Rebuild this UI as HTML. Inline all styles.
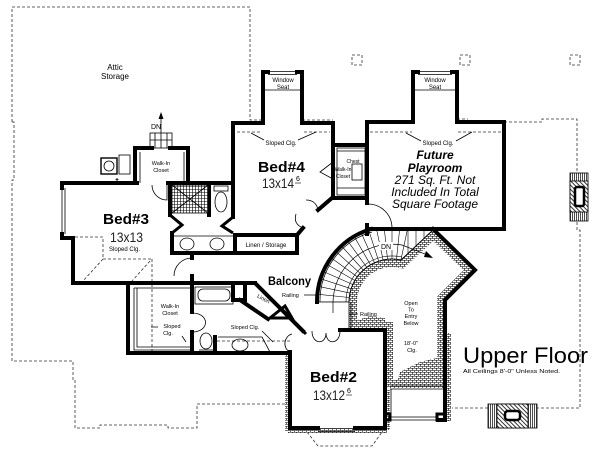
<!DOCTYPE html>
<html><head><meta charset="utf-8">
<style>html,body{margin:0;padding:0;background:#fff;}svg{display:block}</style></head>
<body>
<svg width="600" height="456" viewBox="0 0 600 456" xmlns="http://www.w3.org/2000/svg" font-family="'Liberation Sans', sans-serif">
<defs>
<pattern id="brick" width="4" height="4" patternUnits="userSpaceOnUse">
<rect width="4" height="4" fill="#fff"/>
<path d="M0 0.5H4M0 2.5H4M0.5 0V2.5M2.5 2.5V4" stroke="#000" stroke-width="0.6"/>
</pattern>
<pattern id="diag" width="3" height="3" patternUnits="userSpaceOnUse" patternTransform="rotate(45)">
<rect width="3" height="3" fill="#fff"/><path d="M0 0.5H3" stroke="#000" stroke-width="0.8"/>
</pattern>
<pattern id="vert" width="2" height="2" patternUnits="userSpaceOnUse">
<rect width="2" height="2" fill="#fff"/><path d="M0.5 0V2" stroke="#000" stroke-width="0.7"/>
</pattern>
<pattern id="grid" width="3" height="3" patternUnits="userSpaceOnUse">
<rect width="3" height="3" fill="#fff"/><path d="M0 0.5H3M0.5 0V3" stroke="#000" stroke-width="0.6"/>
</pattern>
<clipPath id="stairClip"><path d="M317,302 A76,76 0 0,1 371,229 L433,229 L401,260 A43,43 0 0,0 349,302 Z"/></clipPath>
<clipPath id="openClip"><path d="M349,302 A43,43 0 0,1 401,260 L433,230 L475,270 L445,300 L445,388 L385,388 L385,330 L349,330 Z"/></clipPath>
</defs>

<!-- dashed outlines -->
<g fill="none" stroke="#333" stroke-width="0.8" stroke-dasharray="3,2">
<path d="M12,122 V7 H250 V120 H263"/>
<path d="M12,122 H14 V180 H12 V361 H73 V380 H75 V428 H100 V425 H168 V428 H197 V404 H285"/>
<path d="M504,122 H542 V119 H577 V172"/>
<path d="M577,222 V230 H580 V408 H537"/>
<path d="M488,408 H452"/>
<path d="M302,120 H333"/>
<path d="M457,119 H468"/>
<rect x="352" y="55" width="10" height="10"/>
<rect x="460" y="55" width="10" height="10"/>
<rect x="570" y="55" width="10" height="10"/>
<path d="M307,432 L318,446 H372 L382,432"/>
<path d="M237,132 H262 M304,132 H330"/>
<path d="M370,132 H412 M458,132 H502"/>
<path d="M75,237 H103 V259 H152 M103,259 L83,281 M150,261 L132,281 M152,259 V355"/>
<path d="M217,341 H290"/>
</g>

<!-- open area hatch -->
<g clip-path="url(#openClip)">
<path d="M349,302 A43,43 0 0,1 401,260 L433,230 L475,270 L445,300 L445,388 L385,388 L385,330 L349,330 Z" fill="none" stroke="url(#brick)" stroke-width="16"/>
<path d="M395,388 L400,372 L420,362 L445,356 L445,388 Z" fill="url(#brick)"/>
<path d="M349,330 L352,322 L370,316 L385,318 L385,330 Z" fill="url(#brick)"/>
</g>
<rect x="447" y="333" width="4" height="88" fill="url(#brick)"/>
<rect x="285" y="355" width="4" height="76" fill="url(#brick)"/>
<rect x="288" y="429" width="99" height="4" fill="url(#brick)"/>
<rect x="386" y="390" width="4" height="40" fill="url(#brick)"/>

<!-- stair treads -->
<g clip-path="url(#stairClip)" stroke="#000" stroke-width="0.6">
<path d="M349,302 L297,302 M349.2,297.5 L297.5,292.1 M349.9,293.1 L299.1,282.2 M351.1,288.7 L301.6,272.6 M352.7,284.5 L305.2,263.4 M354.8,280.5 L309.7,254.5 M357.2,276.7 L315.1,246.2 M360,273.2 L321.4,238.4 M363.2,270 L328.4,231.4 M366.7,267.2 L336.2,225.1 M370.5,264.8 L344.5,219.7 M374.5,262.7 L353.4,215.2 M378.7,261.1 L362.6,211.6 M383.1,259.9 L372.2,209.1 M387.5,259.2 L382.1,207.5 M392,259 L392,207 M396.5,259.2 L401.9,207.5 M400.9,259.9 L411.8,209.1 M408,229 V262 M416,229 V262 M424,229 V262"/>
</g>
<g fill="none" stroke="#000">
<path d="M320,302 A72,72 0 0,1 372,232" stroke-width="0.7"/>
<path d="M349,302 A43,43 0 0,1 401,260 L433,230" stroke-width="1"/>
<path d="M346,302 A46,46 0 0,1 402,257" stroke-width="0.6"/>
<path d="M317,302 H349" stroke-width="0.8"/>
<path d="M349,302 V330 M351,302 V330" stroke-width="0.8"/>
<path d="M333,313 V302 A59,59 0 0,1 402,245 L430,256" stroke-width="0.7"/>
</g>
<path d="M433,258 L426,251 L424,257 Z" fill="#000"/>
<rect x="379" y="242" width="14" height="8" fill="#fff"/>
<text x="386" y="249" font-size="7" text-anchor="middle">DN</text>

<!-- walls -->
<g fill="none" stroke="#000" stroke-width="4" stroke-linecap="square" stroke-linejoin="miter">
<path d="M62,183 H137 M135,183 V148 H152 M170,148 H188 V183 M168,183 H233"/>
<path d="M62,183 V188 M62,234 V238 H73 V283 H255"/>
<path d="M170,183 V215 M209,183 V215"/>
<path d="M172,233 V253 H233"/>
<rect x="235" y="235" width="62" height="18"/>
<path d="M233,217 V123 H263 V72 H268 M297,72 H302 V123 H333 V198 H367 M333,145 H367"/>
<path d="M332,198 L318,210 M297,235 L303,228"/>
<path d="M367,203 V122 H413 V72 H418 M452,72 H457 V122 H504 V229 H367 M367,225 V234"/>
<path d="M128,283 V353 H290 M192,283 V312 M192,332 V353 M215,337 V353"/>
<rect x="233" y="283" width="12" height="17"/>
<path d="M245,283 H255 L303,331"/>
<path d="M240,300 L268,319"/>
<path d="M340,330 H385 V428 H355 M318,428 H290 V352"/>
<path d="M433,229 L475,270 L445,300 V420 H438"/>
<path d="M192,253 V258 M192,276 V283"/>
<path d="M317,302 A76,76 0 0,1 371,229"/>
</g>
<g fill="none" stroke="#000" stroke-width="3">
<path d="M170,215 L182,225 L172,233 M233,217 L222,226 L233,233"/>
<path d="M270,318 L285,306 L292,318 Z"/>
<path d="M299,327 L306,334"/>
<rect x="385" y="414" width="5" height="6"/>
<rect x="437" y="414" width="8" height="6"/>
</g>

<!-- thin details -->
<g fill="none" stroke="#000" stroke-width="0.8">
<path d="M268,71.5 H297 M268,74.5 H297 M418,71.5 H452 M418,74.5 H452"/>
<path d="M263,90 H302 M413,90 H457"/>
<path d="M62,188 V234 M65,188 V234"/>
<path d="M318,428.5 H355 M318,431.5 H355"/>
<path d="M172,236 H233"/>
<ellipse cx="187" cy="244" rx="7" ry="6"/><ellipse cx="217" cy="244" rx="7" ry="6"/>
<rect x="214" y="186" width="14" height="5"/>
<ellipse cx="221" cy="202" rx="6" ry="10"/>
<rect x="337" y="148" width="28" height="47"/>
<path d="M337,151 H365 M337,188 H365"/>
<rect x="352" y="164" width="10" height="16"/>
<path d="M333,162 L320,172 L333,179"/>
<path d="M368,204 A24,24 0 0,1 392,228"/>
<path d="M303,228 Q293,224 296,214 M318,210 Q316,200 306,200"/>
<path d="M152,185 A15,15 0 0,0 167,200 V185"/>
<path d="M140,152 V183 M184,152 V183"/>
<path d="M174,276 A18,18 0 0,1 192,258"/>
<rect x="195" y="287" width="38" height="17"/>
<rect x="198" y="289" width="32" height="12" rx="5"/>
<ellipse cx="206" cy="341" rx="6" ry="8"/><path d="M199,350 H213"/>
<path d="M218,337 H262 L270,352 H218"/>
<ellipse cx="240" cy="345" rx="8" ry="6"/>
<path d="M134,288 V350 H190 M137,288 V347 H190 M134,288 H190"/>
<path d="M192,313 C210,313 210,332 192,332"/>
<path d="M290,352 C282,348 284,336 292,334"/>
<path d="M312,331 C312,345 326,345 326,333 M326,333 C326,345 340,345 340,331"/>
<path d="M390,386 H443 M390,389 H443 M390,417 H437 M390,420 H437 M391,389 V417"/>
<rect x="150" y="133" width="22" height="15"/>
<path d="M155,133 V148 M167,133 V148 M150,140 H172 M161,148 V114"/>
<rect x="101" y="158" width="16" height="16" stroke-width="1.4"/>
<circle cx="109" cy="166" r="5"/>
<rect x="119" y="155" width="11" height="19"/>
<path d="M117,178 V181 M115.5,179.5 H118.5"/>
<path d="M264,140 L251,133 M298,140 L316,132 M421,141 L406,133 M456,141 L472,132"/>
<path d="M304,295 H316 M358,314 H349 M158,327 H151 M182,336 L186,342 M262,331 L273,342"/>
</g>
<path d="M161,112 L158.5,119 H163.5 Z" fill="#000"/>
<rect x="172" y="185" width="36" height="28" fill="url(#grid)" stroke="#000" stroke-width="0.8"/>
<path d="M172,185 L208,213 M208,185 L172,213" stroke="#000" stroke-width="0.8"/>

<!-- chimneys -->
<rect x="570" y="173" width="18" height="48" fill="url(#vert)" stroke="#000" stroke-width="0.8"/>
<rect x="570" y="181" width="18" height="31" fill="url(#diag)" stroke="#000" stroke-width="0.8"/>
<rect x="575" y="187" width="9" height="19" rx="2" fill="#fff" stroke="#000" stroke-width="2.5"/>
<rect x="488" y="404" width="49" height="24" fill="url(#vert)" stroke="#000" stroke-width="0.8"/>
<rect x="497" y="404" width="31" height="24" fill="url(#diag)" stroke="#000" stroke-width="0.8"/>
<rect x="505" y="411" width="15" height="9" rx="3" fill="#fff" stroke="#000" stroke-width="2.5"/>

<!-- text -->
<g fill="#000" text-anchor="middle">
<text x="115" y="70" font-size="8">Attic</text>
<text x="115" y="79" font-size="8">Storage</text>
<text x="283" y="82" font-size="6">Window</text>
<text x="283" y="89" font-size="6">Seat</text>
<text x="435" y="82" font-size="6">Window</text>
<text x="435" y="89" font-size="6">Seat</text>
<text x="281" y="145" font-size="6">Sloped Clg.</text>
<text x="438" y="145" font-size="6">Sloped Clg.</text>
<text x="353" y="163" font-size="5">Chest</text>
<text x="343" y="171" font-size="5">Walk-In</text>
<text x="343" y="178" font-size="5">Closet</text>
<text x="161" y="165" font-size="5.5">Walk-In</text>
<text x="161" y="172" font-size="5.5">Closet</text>
<text x="266" y="247" font-size="6">Linen / Storage</text>
<text x="170" y="308" font-size="5.5">Walk-In</text>
<text x="170" y="315" font-size="5.5">Closet</text>
<text x="172" y="328" font-size="5.5">Sloped</text>
<text x="168" y="335" font-size="5.5">Clg.</text>
<text x="245" y="329" font-size="5.5">Sloped Clg.</text>
<text x="411" y="305" font-size="5.5">Open</text>
<text x="411" y="311.5" font-size="5.5">To</text>
<text x="411" y="318" font-size="5.5">Entry</text>
<text x="411" y="325" font-size="5.5">Below</text>
<text x="411" y="345" font-size="5.5">18'-0"</text>
<text x="412" y="352" font-size="5.5">Clg.</text>
<text x="156" y="129" font-size="7">DN</text>
<text x="435" y="159" font-size="12" font-weight="bold" font-style="italic">Future</text>
<text x="435" y="172" font-size="12" font-weight="bold" font-style="italic">Playroom</text>
<text x="435" y="184" font-size="12" font-style="italic">271 Sq. Ft. Not</text>
<text x="435" y="196" font-size="12" font-style="italic">Included In Total</text>
<text x="435" y="208" font-size="12" font-style="italic">Square Footage</text>
</g>
<g fill="#000">
<text x="258" y="172" font-size="15" font-weight="bold" textLength="47" lengthAdjust="spacingAndGlyphs">Bed#4</text>
<text x="262" y="188" font-size="14" fill="#222" textLength="32" lengthAdjust="spacingAndGlyphs">13x14</text>
<text x="296" y="181" font-size="7">6</text><path d="M295,183 H301" stroke="#000" stroke-width="0.6"/>
<text x="103" y="224" font-size="15" font-weight="bold" textLength="46" lengthAdjust="spacingAndGlyphs">Bed#3</text>
<text x="110" y="242" font-size="14" fill="#222" textLength="33" lengthAdjust="spacingAndGlyphs">13x13</text>
<text x="109" y="251" font-size="6">Sloped Clg.</text>
<text x="310" y="382" font-size="15" font-weight="bold" textLength="47" lengthAdjust="spacingAndGlyphs">Bed#2</text>
<text x="313" y="400" font-size="14" fill="#222" textLength="32" lengthAdjust="spacingAndGlyphs">13x12</text>
<text x="347" y="393" font-size="7">6</text><path d="M346,395 H352" stroke="#000" stroke-width="0.6"/>
<text x="268" y="285" font-size="12" font-weight="bold" textLength="43" lengthAdjust="spacingAndGlyphs">Balcony</text>
<text x="282" y="297" font-size="5.5">Railing</text>
<text x="360" y="316" font-size="5.5">Railing</text>
<text x="256" y="300" font-size="5.5" transform="rotate(28 262 300)">Linen</text>
<text x="463" y="363" font-size="22" textLength="125" lengthAdjust="spacingAndGlyphs">Upper Floor</text>
<text x="463" y="373" font-size="5.5" textLength="97" lengthAdjust="spacingAndGlyphs">All Ceilings 8'-0" Unless Noted.</text>
</g>
</svg>
</body></html>
